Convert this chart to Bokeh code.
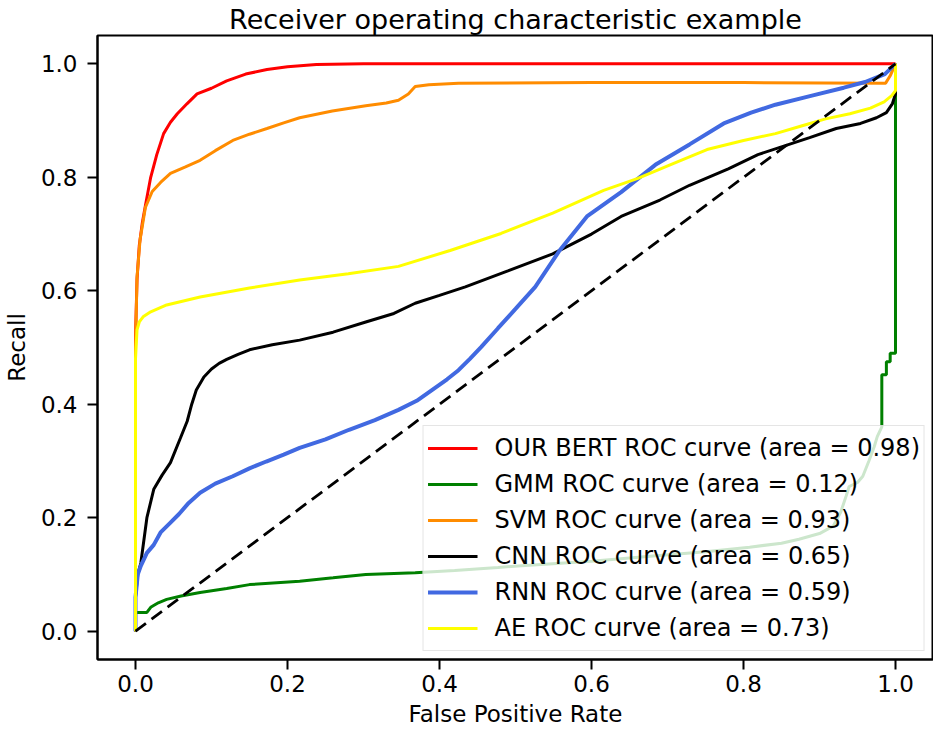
from bokeh.plotting import figure
from bokeh.models import Legend, LegendItem, FixedTicker, NumeralTickFormatter
from bokeh.embed import file_html
from bokeh.resources import INLINE

# ---- data ----
bert_fpr = [0, 0, 0.002, 0.005, 0.009, 0.013, 0.02, 0.028, 0.037, 0.046, 0.055, 0.068, 0.081, 0.1, 0.12, 0.145, 0.173, 0.2, 0.238, 0.3, 1.0]
bert_tpr = [0, 0.52, 0.62, 0.68, 0.72, 0.75, 0.80, 0.84, 0.877, 0.897, 0.912, 0.93, 0.947, 0.957, 0.97, 0.982, 0.99, 0.995, 0.999, 1.0, 1.0]

gmm_fpr = [0, 0, 0.015, 0.02, 0.03, 0.041, 0.06, 0.085, 0.12, 0.15, 0.216, 0.26, 0.303, 0.368, 0.42, 0.477, 0.503, 0.6, 0.677, 0.75, 0.808, 0.85, 0.873, 0.9, 0.918, 0.928, 0.935, 0.939, 0.95, 0.957, 0.965, 0.972, 0.976, 0.982, 0.982, 0.988, 0.988, 0.993, 0.993, 1.0, 1.0]
gmm_tpr = [0, 0.033, 0.033, 0.042, 0.05, 0.056, 0.062, 0.068, 0.075, 0.082, 0.088, 0.094, 0.1, 0.103, 0.107, 0.112, 0.115, 0.123, 0.132, 0.14, 0.148, 0.155, 0.162, 0.172, 0.185, 0.21, 0.238, 0.255, 0.262, 0.273, 0.3, 0.325, 0.343, 0.36, 0.452, 0.452, 0.475, 0.475, 0.49, 0.49, 1.0]

svm_fpr = [0, 0, 0.002, 0.006, 0.013, 0.022, 0.033, 0.046, 0.065, 0.085, 0.105, 0.128, 0.15, 0.173, 0.195, 0.216, 0.259, 0.303, 0.33, 0.346, 0.359, 0.368, 0.386, 0.425, 0.6, 0.8, 0.987, 0.993, 1.0]
svm_tpr = [0, 0.5, 0.624, 0.69, 0.747, 0.775, 0.791, 0.807, 0.818, 0.83, 0.847, 0.865, 0.876, 0.886, 0.896, 0.905, 0.917, 0.926, 0.931, 0.936, 0.947, 0.96, 0.963, 0.966, 0.967, 0.967, 0.966, 0.979, 1.0]

cnn_fpr = [0, 0, 0.003, 0.007, 0.015, 0.024, 0.035, 0.046, 0.059, 0.068, 0.074, 0.08, 0.09, 0.1, 0.11, 0.12, 0.135, 0.15, 0.18, 0.216, 0.26, 0.303, 0.34, 0.368, 0.4, 0.434, 0.49, 0.549, 0.6, 0.639, 0.69, 0.729, 0.78, 0.819, 0.855, 0.887, 0.922, 0.954, 0.975, 0.988, 0.996, 1.0, 1.0]
cnn_tpr = [0, 0.06, 0.1, 0.12, 0.2, 0.25, 0.275, 0.297, 0.34, 0.37, 0.4, 0.425, 0.448, 0.462, 0.472, 0.479, 0.488, 0.496, 0.505, 0.513, 0.527, 0.545, 0.56, 0.578, 0.592, 0.607, 0.635, 0.665, 0.7, 0.731, 0.76, 0.786, 0.815, 0.84, 0.856, 0.87, 0.886, 0.895, 0.905, 0.914, 0.93, 0.947, 1.0]

rnn_fpr = [0, 0, 0.003, 0.007, 0.015, 0.024, 0.033, 0.045, 0.057, 0.07, 0.085, 0.105, 0.128, 0.15, 0.172, 0.195, 0.216, 0.25, 0.281, 0.315, 0.346, 0.37, 0.39, 0.41, 0.425, 0.44, 0.455, 0.477, 0.5, 0.526, 0.558, 0.594, 0.639, 0.684, 0.729, 0.774, 0.81, 0.842, 0.89, 0.932, 0.96, 0.986, 1.0]
rnn_tpr = [0, 0.06, 0.1, 0.115, 0.138, 0.152, 0.174, 0.19, 0.206, 0.226, 0.244, 0.26, 0.273, 0.287, 0.299, 0.311, 0.323, 0.338, 0.355, 0.372, 0.39, 0.406, 0.425, 0.444, 0.46, 0.48, 0.501, 0.534, 0.568, 0.607, 0.671, 0.731, 0.774, 0.822, 0.858, 0.895, 0.914, 0.928, 0.944, 0.958, 0.968, 0.982, 1.0]

ae_fpr = [0, 0, 0.002, 0.005, 0.01, 0.02, 0.041, 0.085, 0.15, 0.216, 0.28, 0.346, 0.414, 0.481, 0.549, 0.616, 0.661, 0.705, 0.752, 0.8, 0.842, 0.875, 0.908, 0.94, 0.967, 0.985, 0.995, 1.0, 1.0]
ae_tpr = [0, 0.48, 0.531, 0.545, 0.554, 0.563, 0.575, 0.589, 0.605, 0.619, 0.63, 0.643, 0.671, 0.701, 0.737, 0.777, 0.798, 0.823, 0.849, 0.865, 0.877, 0.89, 0.903, 0.912, 0.922, 0.933, 0.944, 0.953, 1.0]

diag_x = [0, 1]
diag_y = [0, 1]

series_labels = [
    "OUR BERT ROC curve (area = 0.98)",
    "GMM ROC curve (area = 0.12)",
    "SVM ROC curve (area = 0.93)",
    "CNN ROC curve (area = 0.65)",
    "RNN ROC curve (area = 0.59)",
    "AE ROC curve (area = 0.73)",
]
tick_values = [0.0, 0.2, 0.4, 0.6, 0.8, 1.0]

FONT = "DejaVu Sans"

p = figure(frame_width=836, frame_height=624, x_range=(-0.05, 1.05), y_range=(-0.05, 1.05),
           output_backend="svg", toolbar_location=None,
           title="Receiver operating characteristic example",
           min_border_left=0, min_border_right=0, min_border_top=0, min_border_bottom=0)

p.title.text_font = FONT
p.title.text_font_size = "27px"
p.title.text_font_style = "normal"
p.title.text_color = "black"
p.title.align = "center"
p.title.standoff = 2
p.title.text_line_height = 1.0

p.background_fill_color = "white"
p.border_fill_color = "white"
p.outline_line_color = "black"
p.outline_line_width = 2
p.outline_line_alpha = 1.0
p.xgrid.visible = False
p.ygrid.visible = False

for ax in (p.xaxis[0], p.yaxis[0]):
    ax.ticker = FixedTicker(ticks=tick_values)
    ax.formatter = NumeralTickFormatter(format="0.0")
    ax.major_label_text_font = FONT
    ax.major_label_text_font_size = "23px"
    ax.major_label_text_color = "black"
    ax.major_label_text_line_height = 1.0
    ax.axis_label_text_font = FONT
    ax.axis_label_text_font_size = "23px"
    ax.axis_label_text_font_style = "normal"
    ax.axis_label_text_color = "black"
    ax.axis_label_text_line_height = 1.0
    ax.major_tick_out = 10
    ax.major_tick_in = 0
    ax.major_tick_line_width = 2
    ax.major_tick_line_color = "black"
    ax.minor_tick_line_color = None
    ax.axis_line_width = 2
    ax.axis_line_color = "black"

p.xaxis.axis_label = "False Positive Rate"
p.yaxis.axis_label = "Recall"
p.xaxis.major_label_standoff = 5
p.xaxis.axis_label_standoff = 6
p.yaxis.major_label_standoff = 10
p.yaxis.axis_label_standoff = 8

lw = 3
r_bert = p.line(bert_fpr, bert_tpr, line_color="red", line_width=lw)
r_gmm = p.line(gmm_fpr, gmm_tpr, line_color="#008000", line_width=lw)
r_svm = p.line(svm_fpr, svm_tpr, line_color="#FF8C00", line_width=lw)
r_cnn = p.line(cnn_fpr, cnn_tpr, line_color="black", line_width=lw)
r_rnn = p.line(rnn_fpr, rnn_tpr, line_color="#4169E1", line_width=4)
r_ae = p.line(ae_fpr, ae_tpr, line_color="#FFFF00", line_width=lw)
p.line(diag_x, diag_y, line_color="black", line_width=2.8, line_dash="13 7")

renderers = [r_bert, r_gmm, r_svm, r_cnn, r_rnn, r_ae]
legend = Legend(items=[LegendItem(label=lab, renderers=[r]) for lab, r in zip(series_labels, renderers)],
                location="bottom_right")
legend.label_text_font = FONT
legend.label_text_font_size = "24px"
legend.label_text_color = "black"
legend.glyph_width = 50
legend.glyph_height = 36
legend.label_height = 36
legend.spacing = 0
legend.padding = 4
legend.margin = 8
legend.label_standoff = 17
legend.border_line_color = "#cccccc"
legend.border_line_width = 1.5
legend.background_fill_color = "white"
legend.background_fill_alpha = 0.8
p.add_layout(legend)

open("out.html", "w").write(file_html(p, INLINE))
